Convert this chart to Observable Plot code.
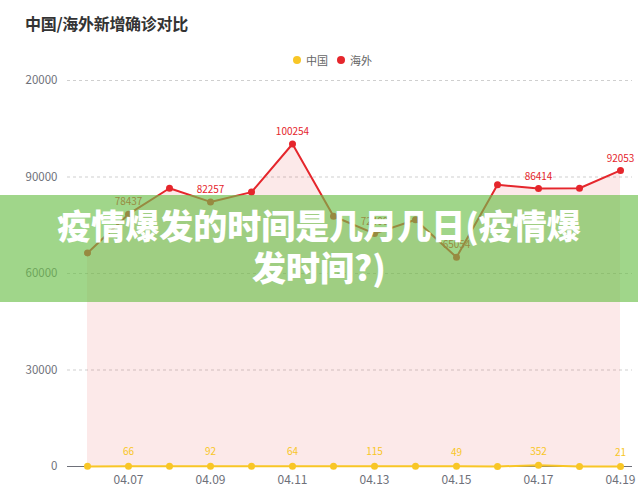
<!DOCTYPE html>
<html>
<head>
<meta charset="utf-8">
<script src="https://cdn.jsdelivr.net/npm/d3@7"></script>
<script src="https://cdn.jsdelivr.net/npm/@observablehq/plot@0.6"></script>
<style>
  html, body { margin: 0; padding: 0; background: #fff; }
  body { width: 638px; height: 498px; position: relative; overflow: hidden; font-family: "Noto Sans CJK SC", "Noto Sans", sans-serif; }
  #title { position: absolute; left: 25px; top: 11px; font-size: 16px; font-weight: bold; color: #333; letter-spacing: -0.3px; }
  #legend { position: absolute; top: 52px; left: 293px; font-size: 11px; color: #666; display: flex; align-items: center; }
  #legend .item { display: flex; align-items: center; margin-right: 9px; }
  #legend .dot { width: 8px; height: 8px; border-radius: 50%; display: inline-block; margin-right: 5px; }
  #chart { position: absolute; left: 0; top: 0; clip-path: inset(0 0 0 25px); }
  #banner { position: absolute; left: 0; top: 195px; width: 638px; height: 107px; background: rgba(109,192,75,0.65);
            color: #fff; font-weight: 900; font-size: 34px; line-height: 42px; text-align: center; box-sizing: border-box; padding-top: 9px; }
</style>
</head>
<body>
<div id="chart"></div>
<div id="title">中国/海外新增确诊对比</div>
<div id="legend">
  <span class="item"><span class="dot" style="background:#f8c626"></span>中国</span>
  <span class="item"><span class="dot" style="background:#e5262c"></span>海外</span>
</div>
<div id="banner">疫情爆发的时间是几月几日(疫情爆<br>发时间?)</div>
<script>
const dates = ["04.06","04.07","04.08","04.09","04.10","04.11","04.12","04.13","04.14","04.15","04.16","04.17","04.18","04.19"];
const chinaValues = [39, 66, 63, 92, 46, 64, 108, 115, 46, 49, 27, 352, 16, 21];
const overseasValues = [66400, 78437, 86500, 82257, 85300, 100254, 77800, 72400, 76700, 65054, 87600, 86414, 86500, 92053];
const yTicks = [0, 30000, 60000, 90000, 120000];
const xTicks = ["04.07","04.09","04.11","04.13","04.15","04.17","04.19"];

const data = dates.map((d, i) => ({date: d, china: chinaValues[i], overseas: overseasValues[i], labeled: i % 2 === 1}));
const labeled = data.filter(d => d.labeled);

const red = "#e5262c";
const yellow = "#f8c626";

const plot = Plot.plot({
  width: 638,
  height: 498,
  marginTop: 80,
  marginBottom: 32,
  marginLeft: 67,
  marginRight: 6,
  style: {fontFamily: "'Noto Sans CJK SC', 'Noto Sans', sans-serif", color: "#6e7079", background: "transparent"},
  x: {type: "point", domain: dates, range: [86, 620], padding: 0, label: null},
  y: {domain: [0, 120000], label: null},
  marks: [
    Plot.gridY(yTicks.filter(t => t > 0), {stroke: "#cfcfcf", strokeOpacity: 1, strokeDasharray: "3,3"}),
    Plot.areaY(data, {x: "date", y: "overseas", fill: red, fillOpacity: 0.1}),
    Plot.ruleY([0], {stroke: "#6e7079", strokeWidth: 1}),
    Plot.axisY({ticks: yTicks, tickSize: 0, tickPadding: 10, fontSize: 11.5, label: null, tickFormat: d => String(d)}),
    Plot.axisX({ticks: xTicks, tickSize: 0, tickPadding: 9, fontSize: 12, label: null}),
    Plot.line(data, {x: "date", y: "overseas", stroke: red, strokeWidth: 2}),
    Plot.dot(data, {x: "date", y: "overseas", fill: red, r: 3.5}),
    Plot.line(data, {x: "date", y: "china", stroke: yellow, strokeWidth: 2}),
    Plot.dot(data, {x: "date", y: "china", fill: yellow, r: 3.5}),
    Plot.text(labeled, {x: "date", y: "overseas", text: d => String(d.overseas), dy: -12, fill: red, fontSize: 10}),
    Plot.text(labeled, {x: "date", y: "china", text: d => String(d.china), dy: -14, fill: yellow, fontSize: 10})
  ]
});
document.getElementById("chart").appendChild(plot);
</script>
</body>
</html>
